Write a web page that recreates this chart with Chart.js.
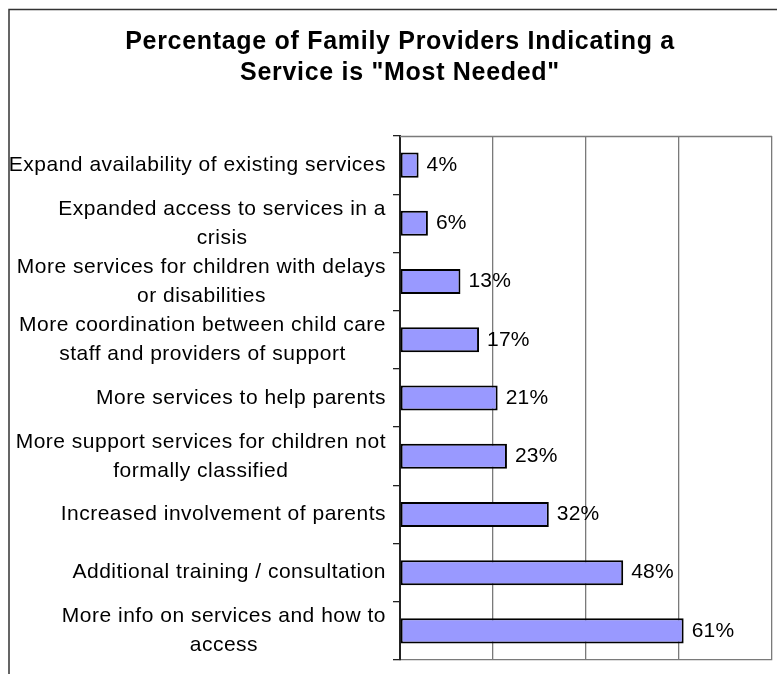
<!DOCTYPE html>
<html>
<head>
<meta charset="utf-8">
<script src="https://cdn.jsdelivr.net/npm/chart.js@4/dist/chart.umd.min.js"></script>
<style>
  html, body { margin: 0; padding: 0; overflow: hidden; background: #fff; }
  canvas { display: block; }
</style>
</head>
<body>
<canvas id="c" width="790" height="674"></canvas>
<script>
const titleLines = ['Percentage of Family Providers Indicating a', 'Service is "Most Needed"'];
const categories = [
  ['Expand availability of existing services'],
  ['Expanded access to services in a', 'crisis'],
  ['More services for children with delays', 'or disabilities'],
  ['More coordination between child care', 'staff and providers of support'],
  ['More services to help parents'],
  ['More support services for children not', 'formally classified'],
  ['Increased involvement of parents'],
  ['Additional training / consultation'],
  ['More info on services and how to', 'access']
];
const values = [4, 6, 13, 17, 21, 23, 32, 48, 61];
const valueLabels = ['4%', '6%', '13%', '17%', '21%', '23%', '32%', '48%', '61%'];
const xTicks = [0, 20, 40, 60, 80];

const LABEL_FONT = '21px "Liberation Sans", Arial, sans-serif';

const frameAndLabels = {
  id: 'frameAndLabels',
  beforeDraw(chart) {
    chart.ctx.letterSpacing = '0.7px';
  },
  beforeDatasetsDraw(chart) {
    const ctx = chart.ctx;
    const a = chart.chartArea;
    ctx.letterSpacing = '0px';
    ctx.save();
    ctx.strokeStyle = '#7a7a7a';
    ctx.lineWidth = 1.3;
    ctx.beginPath();
    ctx.moveTo(a.left, Math.round(a.top) + 0.5);
    ctx.lineTo(a.right, Math.round(a.top) + 0.5);
    ctx.stroke();
    ctx.restore();
  },
  afterDraw(chart) {
    const ctx = chart.ctx;
    const a = chart.chartArea;
    const ys = chart.scales.y;
    const xs = chart.scales.x;
    ctx.save();
    // outer chart border
    ctx.strokeStyle = '#333333';
    ctx.lineWidth = 1.5;
    ctx.beginPath();
    ctx.moveTo(9, chart.height + 5);
    ctx.lineTo(9, 9.5);
    ctx.lineTo(chart.width + 5, 9.5);
    ctx.stroke();

    // category labels
    ctx.font = LABEL_FONT;
    ctx.letterSpacing = '0.5px';
    ctx.fillStyle = '#000';
    ctx.textBaseline = 'middle';
    ctx.textAlign = 'center';
    const rightEdge = a.left - 14;
    const lineH = 29;
    categories.forEach((lines, i) => {
      const y = ys.getPixelForValue(i);
      const maxW = Math.max(...lines.map(l => ctx.measureText(l).width));
      const cx = rightEdge - maxW / 2;
      const y0 = y - (lines.length - 1) * lineH / 2;
      lines.forEach((l, j) => ctx.fillText(l, cx, y0 + j * lineH));
    });

    // value labels
    ctx.letterSpacing = '0.2px';
    ctx.textAlign = 'left';
    values.forEach((v, i) => {
      const x = xs.getPixelForValue(v) + 8;
      const y = ys.getPixelForValue(i);
      ctx.fillText(valueLabels[i], x, y);
    });
    ctx.restore();
  }
};

new Chart(document.getElementById('c'), {
  type: 'bar',
  data: {
    labels: categories,
    datasets: [{
      data: values,
      backgroundColor: '#9999FF',
      borderColor: '#000000',
      borderWidth: 2,
      borderSkipped: false,
      barPercentage: 0.43,
      categoryPercentage: 1.0
    }]
  },
  options: {
    indexAxis: 'y',
    responsive: false,
    animation: false,
    events: [],
    layout: { padding: { left: 28, right: 18, top: 0, bottom: 0 } },
    plugins: {
      legend: { display: false },
      tooltip: { enabled: false },
      title: {
        display: true,
        text: titleLines,
        color: '#000',
        font: { family: '"Liberation Sans", Arial, sans-serif', size: 25, weight: 'bold', lineHeight: 1.22 },
        padding: { top: 27, bottom: 48 }
      }
    },
    scales: {
      x: {
        min: 0,
        max: 80,
        afterBuildTicks(s) { s.ticks = xTicks.map(v => ({ value: v })); },
        afterFit(s) { s.height = 14; },
        ticks: { display: false },
        grid: { color: '#7a7a7a', lineWidth: 1.3, drawTicks: false },
        border: { display: true, color: '#7a7a7a', width: 1.3 }
      },
      y: {
        afterFit(s) { s.width = 372; },
        ticks: { display: false },
        grid: { offset: true, drawOnChartArea: false, drawTicks: true, tickLength: 7, color: '#222', lineWidth: 1.3 },
        border: { display: true, color: '#222', width: 2 }
      }
    }
  },
  plugins: [frameAndLabels]
});
</script>
</body>
</html>
